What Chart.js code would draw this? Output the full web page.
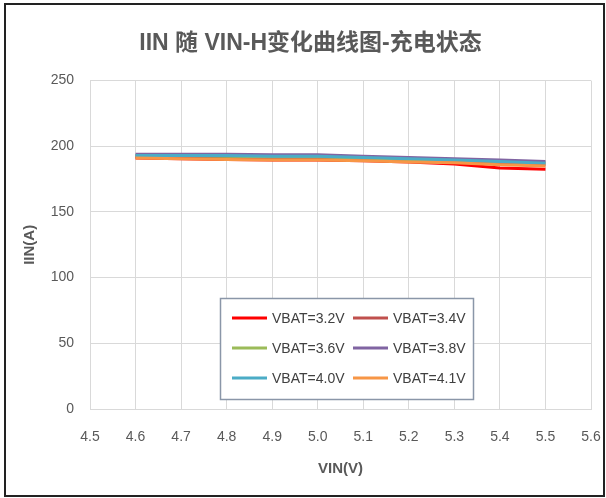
<!DOCTYPE html>
<html>
<head>
<meta charset="utf-8">
<script src="https://cdn.jsdelivr.net/npm/chart.js@4.4.1/dist/chart.umd.min.js"></script>
<style>
  html, body { margin: 0; padding: 0; background: #fff; }
  #wrap { position: relative; width: 606px; height: 498px; }
  #frame { position: absolute; left: 4px; top: 3px; width: 597px; height: 490px; border: 2px solid #222; pointer-events: none; }
</style>
</head>
<body>
<div id="wrap">
  <canvas id="chart" width="606" height="498"></canvas>
  <div id="frame"></div>
</div>
<script>
// ---- data ----
const vin = [4.6, 4.7, 4.8, 4.9, 5.0, 5.1, 5.2, 5.3, 5.4, 5.5];
const seriesNames = ["VBAT=3.2V", "VBAT=3.4V", "VBAT=3.6V", "VBAT=3.8V", "VBAT=4.0V", "VBAT=4.1V"];
const vbat32 = [191, 190.5, 190, 189.5, 189.5, 189, 188, 186.5, 183.5, 182.5];
const vbat34 = [192, 191.5, 191, 190.5, 190, 189.5, 188.5, 188, 187, 186];
const vbat36 = [193, 193, 192.5, 192, 192, 191, 190, 189.5, 188.5, 187.5];
const vbat38 = [194, 194, 194, 193.5, 193.5, 192.5, 191.5, 190.5, 189.5, 188.5];
const vbat40 = [193, 193, 193, 192.5, 192.5, 191.5, 190.5, 189.5, 188.5, 187];
const vbat41 = [191, 190.5, 190, 189.5, 189.5, 189, 188, 187.5, 186, 185];
const colors = ["#FF0000", "#C0504D", "#9BBB59", "#8064A2", "#4BACC6", "#F79646"];

const FONT = "'Liberation Sans', 'Noto Sans CJK SC', sans-serif";

const allSeries = [vbat32, vbat34, vbat36, vbat38, vbat40, vbat41];
const datasets = allSeries.map((vals, i) => ({
  label: seriesNames[i],
  data: vals.map((v, k) => ({ x: vin[k], y: v })),
  borderColor: colors[i],
  backgroundColor: colors[i],
  borderWidth: 3,
  pointRadius: 0,
  fill: false,
  order: allSeries.length - i   // later series drawn on top, as in the original
}));

// legend box drawn inside the plot, like the original
const boxLegend = {
  id: "boxLegend",
  afterDraw(chart) {
    const ctx = chart.ctx;
    const x0 = 220, y0 = 298, w = 253, h = 101;
    ctx.save();
    ctx.fillStyle = "#fff";
    ctx.fillRect(x0, y0, w, h);
    ctx.strokeStyle = "#8a96a8";
    ctx.lineWidth = 1.5;
    ctx.strokeRect(x0 + 0.5, y0 + 0.5, w, h);
    ctx.font = "14px " + FONT;
    ctx.textBaseline = "middle";
    ctx.fillStyle = "#404040";
    seriesNames.forEach((name, i) => {
      const col = i % 2, row = Math.floor(i / 2);
      const lx = col === 0 ? 232 : 353;
      const ly = 318 + row * 30;
      ctx.strokeStyle = colors[i];
      ctx.lineWidth = 3;
      ctx.beginPath();
      ctx.moveTo(lx, ly);
      ctx.lineTo(lx + 35, ly);
      ctx.stroke();
      ctx.fillText(name, lx + 40, ly + 1);
    });
    ctx.restore();
  }
};

new Chart(document.getElementById("chart"), {
  type: "line",
  data: { datasets },
  plugins: [boxLegend],
  options: {
    responsive: false,
    animation: false,
    layout: { padding: { left: 30, right: 15, top: 14, bottom: 16 } },
    plugins: {
      legend: { display: false },
      tooltip: { enabled: false },
      title: {
        display: true,
        text: "IIN 随 VIN-H变化曲线图-充电状态",
        color: "#595959",
        font: { family: FONT, size: 23, weight: "bold" },
        padding: { top: 16, bottom: 23 }
      }
    },
    scales: {
      x: {
        type: "linear",
        min: 4.5,
        max: 5.6,
        ticks: {
          stepSize: 0.1,
          color: "#595959",
          font: { family: FONT, size: 14 },
          callback: v => v.toFixed(1),
          padding: 20
        },
        grid: { color: "#d9d9d9", drawTicks: false },
        border: { color: "#d9d9d9" },
        title: {
          display: true,
          text: "VIN(V)",
          color: "#595959",
          font: { family: FONT, size: 15, weight: "bold" },
          padding: { top: 2, bottom: 4 }
        },
        afterFit: s => { s.height = 73; s.paddingLeft = 0; s.paddingRight = 0; }
      },
      y: {
        min: 0,
        max: 250,
        ticks: {
          stepSize: 50,
          color: "#595959",
          font: { family: FONT, size: 14 },
          padding: 16
        },
        grid: { color: "#d9d9d9", drawTicks: false },
        border: { color: "#d9d9d9" },
        title: {
          display: true,
          text: "IIN(A)",
          color: "#595959",
          font: { family: FONT, size: 15, weight: "bold" },
          padding: { top: -9, bottom: 0 }
        },
        afterFit: s => { s.width = 60; }
      }
    }
  }
});
</script>
</body>
</html>
